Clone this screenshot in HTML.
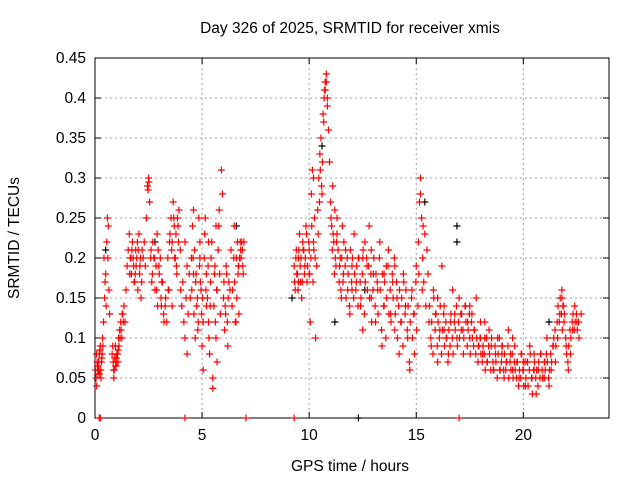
<!DOCTYPE html>
<html><head><meta charset="utf-8"><style>
body{margin:0;background:#fff}
svg{display:block;font-family:"Liberation Sans",sans-serif}
</style></head><body>
<svg id="chart" width="640" height="480" viewBox="0 0 640 480">
<rect width="640" height="480" fill="#fff"/>
<text x="350" y="33" font-size="15.5" text-anchor="middle">Day 326 of 2025, SRMTID for receiver xmis</text>
<g id="grid"></g>
<g id="axes"></g>
<g id="pts"></g>
<text x="350" y="471" font-size="15.5" text-anchor="middle">GPS time / hours</text>
<text transform="translate(19,238) rotate(-90)" font-size="15.5" text-anchor="middle">SRMTID / TECUs</text>
</svg>
<script>
const xTicks=[0,5,10,15,20];
const yTicks=[0,0.05,0.1,0.15,0.2,0.25,0.3,0.35,0.4,0.45];
const yTickLabels=["0","0.05","0.1","0.15","0.2","0.25","0.3","0.35","0.4","0.45"];
const hours=[
0.05,0.1,0.15,0.2,0.25,0.3,0.35,0.08,0.18,0.28,
0.4,0.45,0.5,0.52,0.55,0.58,0.6,0.62,0.65,0.68,
0.8,0.85,0.9,0.95,1.0,1.05,1.1,0.88,0.98,1.08,
1.15,1.2,1.25,1.3,1.35,1.4,1.45,1.5,1.55,1.6,
1.65,1.7,1.75,1.8,1.85,1.9,1.95,2.0,2.05,2.1,
2.15,2.2,2.3,2.35,2.4,2.45,2.5,2.55,2.6,2.65,
2.7,2.75,2.8,2.85,2.9,2.95,3.0,3.1,3.2,3.3,
3.35,3.4,3.5,3.55,3.6,3.65,3.7,3.75,3.8,3.9,
4.0,4.05,4.1,4.15,4.2,4.25,4.3,4.35,4.4,4.5,
4.55,4.6,4.65,4.7,4.75,4.8,4.9,4.95,5.0,5.05,
5.1,5.15,5.2,5.25,5.3,5.35,5.4,5.45,5.5,5.55,
5.6,5.65,5.7,5.75,5.8,5.85,5.9,5.95,6.0,6.05,
6.1,6.15,6.2,6.3,6.35,6.4,6.5,6.6,6.7,6.8,
4.3,4.85,5.3,5.7,6.25,6.55,6.65,4.2,5.05,5.5,
9.3,9.35,9.4,9.45,9.5,9.55,9.6,9.65,9.7,9.8,
9.85,9.9,10.0,10.05,10.1,10.15,10.2,10.25,10.3,10.35,
10.4,10.45,10.5,10.55,10.6,10.65,10.7,10.75,10.8,10.85,
10.9,10.95,11.0,11.05,11.1,11.15,11.2,11.25,11.3,11.35,
11.4,11.45,11.5,11.55,11.6,11.7,11.8,11.9,12.0,12.1,
12.2,12.3,12.4,12.5,12.6,12.7,12.8,12.9,13.0,13.1,
13.2,13.3,13.4,13.5,13.6,13.7,13.8,13.9,14.0,14.1,
14.2,14.3,14.4,14.5,14.6,14.7,14.8,14.9,15.0,15.1,
15.15,15.2,15.25,15.3,15.35,15.4,15.45,15.5,15.55,15.6,
15.7,15.8,15.9,16.0,16.1,16.2,16.3,16.4,16.5,16.6,
16.7,16.8,16.9,17.0,17.1,17.2,17.3,17.4,17.5,17.6,
17.7,17.8,17.9,18.0,18.1,18.2,18.3,18.4,18.5,18.6,
18.7,18.8,18.9,19.0,19.1,19.2,19.3,19.4,19.5,19.6,
19.7,19.8,19.9,20.0,20.1,20.2,20.3,20.4,20.5,20.6,
20.7,20.8,20.9,21.0,21.1,21.2,21.3,21.4,21.5,21.6,
21.7,21.8,21.9,22.0,22.1,22.2,22.3,22.4,22.5,22.6,
0.12,0.22,0.32,1.0,1.12,1.78,1.88,2.02,2.48,2.52,
3.05,3.15,3.45,3.6,3.85,4.45,4.6,4.9,5.2,5.65,
6.75,6.85,6.9,9.5,9.75,10.0,10.2,10.75,10.8,10.85,
11.3,12.0,12.5,12.9,13.5,14.0,15.2,16.0,16.3,17.5,
18.0,18.2,19.0,19.5,20.0,20.5,21.0,21.8,21.85,22.7,
0.03,0.07,0.13,0.17,0.23,0.27,0.33,0.37,0.42,0.47,
0.83,0.87,0.92,0.97,1.02,1.07,1.17,1.22,1.27,1.32,
1.62,1.68,1.72,1.83,1.92,1.98,2.08,2.12,2.18,2.25,
2.62,2.68,2.78,2.88,2.92,2.98,3.08,3.12,3.22,3.28,
3.42,3.48,3.58,3.68,3.72,3.78,3.82,3.88,3.92,3.98,
4.52,4.58,4.62,4.68,4.72,4.78,4.82,4.88,4.92,4.98,
5.02,5.12,5.18,5.28,5.32,5.38,5.42,5.58,5.62,5.68,
5.78,5.82,6.02,6.08,6.12,6.18,6.22,6.42,6.48,6.52,
6.58,6.62,6.68,6.72,6.78,6.82,6.88,6.92,6.95,6.7,
9.32,9.38,9.42,9.48,9.52,9.58,9.62,9.68,9.72,9.78,
9.82,9.88,9.92,9.98,10.02,10.08,10.12,10.18,10.22,10.28,
10.42,10.48,10.52,10.58,10.62,10.68,10.72,11.02,11.08,11.12,
11.18,11.22,11.28,11.42,11.48,11.52,11.58,11.62,11.68,11.72,
11.78,11.82,11.88,11.92,11.98,12.02,12.08,12.12,12.18,12.22,
12.28,12.32,12.38,12.42,12.48,12.52,12.58,12.62,12.68,12.72,
12.78,12.82,12.88,12.92,12.98,13.02,13.08,13.12,13.18,13.22,
13.28,13.32,13.38,13.42,13.48,13.52,13.58,13.62,13.68,13.72,
13.78,13.82,13.88,13.92,13.98,14.02,14.08,14.12,14.18,14.22,
14.28,14.32,14.38,14.42,14.48,14.52,14.58,14.62,14.68,14.72,
14.78,14.82,14.88,14.92,14.98,15.02,15.08,15.12,15.28,15.32,
15.62,15.68,15.72,15.78,15.82,15.88,15.92,15.98,16.02,16.08,
16.12,16.18,16.22,16.28,16.32,16.38,16.42,16.48,16.52,16.58,
16.62,16.68,16.72,16.78,16.82,16.88,16.92,16.98,17.02,17.08,
17.12,17.18,17.22,17.28,17.32,17.38,17.42,17.48,17.52,17.58,
17.62,17.68,17.72,17.78,17.82,17.88,17.92,17.98,18.02,18.08,
18.12,18.18,18.22,18.28,18.32,18.38,18.42,18.48,18.52,18.58,
18.62,18.68,18.72,18.78,18.82,18.88,18.92,18.98,19.02,19.08,
19.12,19.18,19.22,19.28,19.32,19.38,19.42,19.48,19.52,19.58,
19.62,19.68,19.72,19.78,19.82,19.88,19.92,19.98,20.02,20.08,
20.12,20.18,20.22,20.28,20.32,20.38,20.42,20.48,20.52,20.58,
20.62,20.68,20.72,20.78,20.82,20.88,20.92,20.98,21.02,21.08,
21.12,21.18,21.22,21.28,21.32,21.38,21.42,21.48,21.52,21.58,
21.62,21.68,21.72,21.78,21.82,21.88,21.92,21.98,22.02,22.08,
22.12,22.18,22.22,22.28,22.32,22.38,22.42,22.48,22.52,22.58,
0.2,0.25,4.2,7.05,9.3,17.0];
const tec=[
0.05,0.07,0.06,0.08,0.09,0.07,0.1,0.04,0.06,0.05,
0.12,0.15,0.18,0.14,0.22,0.25,0.2,0.24,0.16,0.13,
0.08,0.07,0.06,0.09,0.07,0.08,0.1,0.05,0.065,0.085,
0.11,0.12,0.1,0.13,0.14,0.12,0.16,0.19,0.21,0.23,
0.2,0.18,0.22,0.19,0.17,0.21,0.2,0.16,0.23,0.19,
0.15,0.21,0.22,0.19,0.25,0.29,0.3,0.27,0.2,0.17,
0.22,0.2,0.16,0.19,0.23,0.21,0.18,0.14,0.13,0.15,
0.12,0.2,0.23,0.25,0.22,0.27,0.24,0.2,0.19,0.22,
0.16,0.14,0.17,0.12,0.1,0.15,0.19,0.13,0.18,0.2,
0.24,0.26,0.21,0.17,0.14,0.11,0.22,0.16,0.09,0.12,
0.2,0.25,0.18,0.15,0.12,0.08,0.17,0.22,0.05,0.14,
0.19,0.1,0.16,0.21,0.26,0.13,0.31,0.28,0.15,0.11,
0.13,0.18,0.09,0.16,0.21,0.14,0.24,0.2,0.19,0.21,
0.08,0.25,0.22,0.07,0.17,0.12,0.22,0.22,0.06,0.037,
0.19,0.16,0.21,0.18,0.2,0.23,0.17,0.15,0.22,0.19,
0.24,0.17,0.21,0.12,0.28,0.31,0.22,0.25,0.1,0.19,
0.26,0.3,0.33,0.35,0.28,0.38,0.4,0.42,0.43,0.39,
0.36,0.32,0.27,0.24,0.29,0.22,0.26,0.19,0.23,0.21,
0.17,0.2,0.15,0.24,0.18,0.21,0.16,0.13,0.19,0.23,
0.17,0.2,0.14,0.11,0.22,0.19,0.24,0.15,0.18,0.12,
0.16,0.22,0.09,0.14,0.19,0.21,0.13,0.17,0.11,0.15,
0.08,0.12,0.18,0.14,0.1,0.06,0.16,0.13,0.19,0.22,
0.27,0.3,0.25,0.2,0.17,0.23,0.14,0.21,0.18,0.12,
0.09,0.16,0.13,0.07,0.11,0.19,0.14,0.1,0.08,0.12,
0.16,0.13,0.1,0.15,0.11,0.08,0.14,0.12,0.1,0.13,
0.11,0.15,0.09,0.12,0.08,0.1,0.07,0.11,0.09,0.06,
0.08,0.1,0.06,0.09,0.05,0.07,0.11,0.08,0.06,0.09,
0.07,0.05,0.08,0.06,0.04,0.07,0.09,0.05,0.08,0.03,
0.06,0.08,0.05,0.07,0.1,0.04,0.06,0.09,0.07,0.1,
0.13,0.16,0.12,0.09,0.06,0.08,0.11,0.14,0.12,0.1,
0.065,0.055,0.075,0.075,0.09,0.2,0.18,0.21,0.285,0.295,
0.2,0.17,0.16,0.14,0.25,0.15,0.18,0.2,0.14,0.24,
0.2,0.22,0.19,0.17,0.21,0.18,0.3,0.41,0.42,0.4,
0.25,0.16,0.2,0.21,0.18,0.19,0.28,0.15,0.11,0.14,
0.1,0.12,0.08,0.1,0.07,0.06,0.05,0.15,0.14,0.13,
0.06,0.08,0.055,0.07,0.085,0.06,0.08,0.09,0.2,0.17,
0.09,0.06,0.075,0.065,0.08,0.07,0.1,0.11,0.13,0.12,
0.18,0.2,0.21,0.17,0.19,0.22,0.18,0.2,0.17,0.2,
0.21,0.18,0.2,0.16,0.14,0.19,0.15,0.17,0.12,0.14,
0.16,0.22,0.21,0.25,0.2,0.23,0.18,0.24,0.26,0.21,
0.16,0.2,0.13,0.1,0.18,0.15,0.12,0.19,0.17,0.13,
0.15,0.23,0.16,0.19,0.1,0.14,0.2,0.18,0.12,0.16,
0.24,0.18,0.17,0.14,0.19,0.12,0.15,0.16,0.2,0.17,
0.12,0.15,0.18,0.13,0.22,0.2,0.21,0.18,0.22,0.19,
0.17,0.2,0.18,0.16,0.21,0.19,0.2,0.17,0.21,0.18,
0.2,0.23,0.19,0.22,0.18,0.2,0.24,0.17,0.21,0.2,
0.23,0.27,0.31,0.29,0.32,0.37,0.41,0.25,0.21,0.23,
0.18,0.2,0.22,0.19,0.16,0.2,0.17,0.22,0.19,0.15,
0.2,0.18,0.14,0.21,0.17,0.2,0.15,0.18,0.16,0.19,
0.14,0.2,0.17,0.15,0.18,0.21,0.13,0.17,0.2,0.16,
0.19,0.15,0.18,0.12,0.16,0.2,0.14,0.18,0.17,0.13,
0.2,0.16,0.11,0.18,0.14,0.17,0.1,0.15,0.19,0.13,
0.16,0.12,0.18,0.15,0.2,0.13,0.17,0.1,0.14,0.16,
0.12,0.15,0.09,0.17,0.13,0.16,0.11,0.14,0.07,0.12,
0.15,0.1,0.13,0.08,0.17,0.11,0.14,0.18,0.16,0.24,
0.14,0.1,0.12,0.08,0.15,0.11,0.13,0.09,0.12,0.1,
0.14,0.08,0.11,0.13,0.09,0.12,0.1,0.07,0.11,0.09,
0.13,0.1,0.08,0.12,0.11,0.14,0.09,0.12,0.1,0.13,
0.13,0.11,0.1,0.14,0.12,0.09,0.11,0.13,0.08,0.12,
0.1,0.09,0.11,0.08,0.1,0.07,0.09,0.1,0.08,0.07,
0.09,0.08,0.06,0.1,0.07,0.09,0.08,0.06,0.1,0.07,
0.06,0.09,0.07,0.05,0.08,0.1,0.06,0.07,0.09,0.06,
0.08,0.06,0.07,0.09,0.05,0.07,0.06,0.08,0.05,0.07,
0.06,0.05,0.07,0.04,0.06,0.05,0.08,0.06,0.04,0.07,
0.05,0.07,0.04,0.06,0.08,0.05,0.03,0.06,0.07,0.05,
0.06,0.04,0.07,0.05,0.08,0.06,0.05,0.07,0.06,0.08,
0.07,0.05,0.06,0.08,0.07,0.09,0.1,0.11,0.09,0.12,
0.14,0.12,0.15,0.13,0.11,0.14,0.13,0.1,0.08,0.07,
0.09,0.11,0.1,0.12,0.13,0.11,0.12,0.13,0.11,0.12,
0,0,0,0,0,0];
const hoursBlack=[0.5,2.8,6.6,9.2,10.6,11.2,12.6,12.3,15.4,16.9,16.9,21.2];
const tecBlack=[0.21,0.22,0.24,0.15,0.34,0.12,0.16,0,0.27,0.22,0.24,0.12];

const X0=95,X1=609,Y0=418,Y1=58,XMAX=24,YMAX=0.45;
const xs=h=>X0+(X1-X0)*h/XMAX;
const ys=v=>Y0-(Y0-Y1)*v/YMAX;
const NS="http://www.w3.org/2000/svg";
const mk=(t,a)=>{const e=document.createElementNS(NS,t);for(const k in a)e.setAttribute(k,a[k]);return e;};
const grid=document.getElementById('grid'),axes=document.getElementById('axes'),pts=document.getElementById('pts');

yTicks.forEach((v,i)=>{
  const y=ys(v);
  if(i>0&&i<yTicks.length-1){
    const g=mk('line',{x1:X0,x2:X1,y1:y,y2:y,stroke:'#a0a0a0','stroke-dasharray':'2,3','stroke-width':1});
    
    
    grid.appendChild(g);
  }
  const t=mk('line',{x1:X0,x2:X0+6,y1:y,y2:y,stroke:'#000'});
  
  
  axes.appendChild(t);
  const t2=mk('line',{x1:X1-6,x2:X1,y1:y,y2:y,stroke:'#000'});
  
  
  axes.appendChild(t2);
  const l=mk('text',{x:X0-9,y:y+5,'font-size':15.5,'text-anchor':'end'});
  l.textContent=yTickLabels[i];
  
  
  axes.appendChild(l);
});
xTicks.forEach(h=>{
  const x=xs(h);
  if(h>0){
    const g=mk('line',{x1:x,x2:x,y1:Y1,y2:Y0,stroke:'#a0a0a0','stroke-dasharray':'2,3','stroke-width':1});
    
    
    grid.appendChild(g);
  }
  const t=mk('line',{x1:x,x2:x,y1:Y0,y2:Y0-6,stroke:'#000'});
  
  
  axes.appendChild(t);
  const t2=mk('line',{x1:x,x2:x,y1:Y1,y2:Y1+6,stroke:'#000'});
  
  
  axes.appendChild(t2);
  const l=mk('text',{x:x,y:Y0+22,'font-size':15.5,'text-anchor':'middle'});
  l.textContent=String(h);
  
  
  axes.appendChild(l);
});
const frame=mk('rect',{x:X0,y:Y1,width:X1-X0,height:Y0-Y1,fill:'none',stroke:'#000'});


axes.appendChild(frame);

function plus(h,v,col){
  const x=xs(h),y=ys(v);
  const p=mk('path',{d:`M${x-3.5},${y}H${x+3.5}M${x},${y-3.5}V${y+3.5}`,stroke:col,'stroke-width':1.2,fill:'none'});
  
  
  pts.appendChild(p);
}
const n=Math.min(hours.length,tec.length);
hoursBlack.forEach((h,i)=>plus(h,tecBlack[i],'#000'));
for(let i=0;i<n;i++)plus(hours[i],tec[i],'#f00');
</script>
</body></html>
